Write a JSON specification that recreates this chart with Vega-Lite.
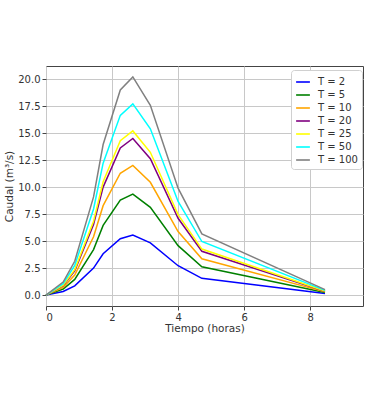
{
  "$schema": "https://vega.github.io/schema/vega-lite/v6.json",
  "width": 317,
  "height": 240,
  "autosize": {"type": "none"},
  "padding": {"left": 46, "top": 66, "right": 7, "bottom": 94},
  "background": "white",
  "config": {
    "font": "DejaVu Sans",
    "view": {"stroke": "#444", "strokeWidth": 1},
    "axis": {
      "domain": false,
      "grid": true,
      "gridColor": "#c8c8c8",
      "gridWidth": 1,
      "tickColor": "#444",
      "tickSize": 4,
      "labelFontSize": 10,
      "labelColor": "#333",
      "titleFontSize": 10.5,
      "titleFontWeight": "normal",
      "titleColor": "#333",
      "labelPadding": 2
    },
    "legend": {
      "labelFontSize": 10,
      "labelColor": "#333",
      "symbolType": "stroke",
      "symbolSize": 190,
      "symbolStrokeWidth": 1.6,
      "strokeColor": "#d0d0d0",
      "fillColor": "white",
      "cornerRadius": 3,
      "padding": 4,
      "rowPadding": 0,
      "labelOffset": 7
    }
  },
  "data": {
    "values": [
      {"t": 0, "serie": "T = 2", "q": 0}, {"t": 0.52, "serie": "T = 2", "q": 0.33}, {"t": 0.87, "serie": "T = 2", "q": 0.86}, {"t": 1.44, "serie": "T = 2", "q": 2.5}, {"t": 1.73, "serie": "T = 2", "q": 3.83}, {"t": 2.25, "serie": "T = 2", "q": 5.22}, {"t": 2.63, "serie": "T = 2", "q": 5.55}, {"t": 3.16, "serie": "T = 2", "q": 4.83}, {"t": 4.0, "serie": "T = 2", "q": 2.72}, {"t": 4.72, "serie": "T = 2", "q": 1.55}, {"t": 8.45, "serie": "T = 2", "q": 0.14},
      {"t": 0, "serie": "T = 5", "q": 0}, {"t": 0.52, "serie": "T = 5", "q": 0.56}, {"t": 0.87, "serie": "T = 5", "q": 1.45}, {"t": 1.44, "serie": "T = 5", "q": 4.21}, {"t": 1.73, "serie": "T = 5", "q": 6.45}, {"t": 2.25, "serie": "T = 5", "q": 8.79}, {"t": 2.63, "serie": "T = 5", "q": 9.35}, {"t": 3.16, "serie": "T = 5", "q": 8.13}, {"t": 4.0, "serie": "T = 5", "q": 4.58}, {"t": 4.72, "serie": "T = 5", "q": 2.62}, {"t": 8.45, "serie": "T = 5", "q": 0.23},
      {"t": 0, "serie": "T = 10", "q": 0}, {"t": 0.52, "serie": "T = 10", "q": 0.72}, {"t": 0.87, "serie": "T = 10", "q": 1.86}, {"t": 1.44, "serie": "T = 10", "q": 5.4}, {"t": 1.73, "serie": "T = 10", "q": 8.28}, {"t": 2.25, "serie": "T = 10", "q": 11.28}, {"t": 2.63, "serie": "T = 10", "q": 12.0}, {"t": 3.16, "serie": "T = 10", "q": 10.44}, {"t": 4.0, "serie": "T = 10", "q": 5.88}, {"t": 4.72, "serie": "T = 10", "q": 3.36}, {"t": 8.45, "serie": "T = 10", "q": 0.3},
      {"t": 0, "serie": "T = 20", "q": 0}, {"t": 0.52, "serie": "T = 20", "q": 0.87}, {"t": 0.87, "serie": "T = 20", "q": 2.25}, {"t": 1.44, "serie": "T = 20", "q": 6.53}, {"t": 1.73, "serie": "T = 20", "q": 10.0}, {"t": 2.25, "serie": "T = 20", "q": 13.63}, {"t": 2.63, "serie": "T = 20", "q": 14.5}, {"t": 3.16, "serie": "T = 20", "q": 12.62}, {"t": 4.0, "serie": "T = 20", "q": 7.11}, {"t": 4.72, "serie": "T = 20", "q": 4.06}, {"t": 8.45, "serie": "T = 20", "q": 0.36},
      {"t": 0, "serie": "T = 25", "q": 0}, {"t": 0.52, "serie": "T = 25", "q": 0.91}, {"t": 0.87, "serie": "T = 25", "q": 2.36}, {"t": 1.44, "serie": "T = 25", "q": 6.84}, {"t": 1.73, "serie": "T = 25", "q": 10.49}, {"t": 2.25, "serie": "T = 25", "q": 14.29}, {"t": 2.63, "serie": "T = 25", "q": 15.2}, {"t": 3.16, "serie": "T = 25", "q": 13.22}, {"t": 4.0, "serie": "T = 25", "q": 7.45}, {"t": 4.72, "serie": "T = 25", "q": 4.26}, {"t": 8.45, "serie": "T = 25", "q": 0.38},
      {"t": 0, "serie": "T = 50", "q": 0}, {"t": 0.52, "serie": "T = 50", "q": 1.06}, {"t": 0.87, "serie": "T = 50", "q": 2.74}, {"t": 1.44, "serie": "T = 50", "q": 7.97}, {"t": 1.73, "serie": "T = 50", "q": 12.21}, {"t": 2.25, "serie": "T = 50", "q": 16.64}, {"t": 2.63, "serie": "T = 50", "q": 17.7}, {"t": 3.16, "serie": "T = 50", "q": 15.4}, {"t": 4.0, "serie": "T = 50", "q": 8.67}, {"t": 4.72, "serie": "T = 50", "q": 4.96}, {"t": 8.45, "serie": "T = 50", "q": 0.44},
      {"t": 0, "serie": "T = 100", "q": 0}, {"t": 0.52, "serie": "T = 100", "q": 1.21}, {"t": 0.87, "serie": "T = 100", "q": 3.13}, {"t": 1.44, "serie": "T = 100", "q": 9.09}, {"t": 1.73, "serie": "T = 100", "q": 13.94}, {"t": 2.25, "serie": "T = 100", "q": 18.99}, {"t": 2.63, "serie": "T = 100", "q": 20.2}, {"t": 3.16, "serie": "T = 100", "q": 17.57}, {"t": 4.0, "serie": "T = 100", "q": 9.9}, {"t": 4.72, "serie": "T = 100", "q": 5.66}, {"t": 8.45, "serie": "T = 100", "q": 0.5}
    ]
  },
  "mark": {"type": "line", "strokeWidth": 1.5},
  "encoding": {
    "x": {
      "field": "t", "type": "quantitative",
      "scale": {"domain": [0, 9.6], "nice": false, "zero": false},
      "axis": {"values": [0, 2, 4, 6, 8], "format": "d", "title": "Tiempo (horas)", "titlePadding": 1}
    },
    "y": {
      "field": "q", "type": "quantitative",
      "scale": {"domain": [-1.01, 21.21], "nice": false, "zero": false},
      "axis": {"values": [0, 2.5, 5, 7.5, 10, 12.5, 15, 17.5, 20], "format": ".1f", "title": "Caudal (m³/s)", "titlePadding": 3}
    },
    "color": {
      "field": "serie", "type": "nominal",
      "scale": {
        "domain": ["T = 2", "T = 5", "T = 10", "T = 20", "T = 25", "T = 50", "T = 100"],
        "range": ["#0000ff", "#008000", "#ffa500", "#800080", "#ffff00", "#00ffff", "#808080"]
      },
      "legend": {"title": null, "orient": "none", "legendX": 245, "legendY": 4}
    },
    "order": {"field": "t", "type": "quantitative"}
  }
}
